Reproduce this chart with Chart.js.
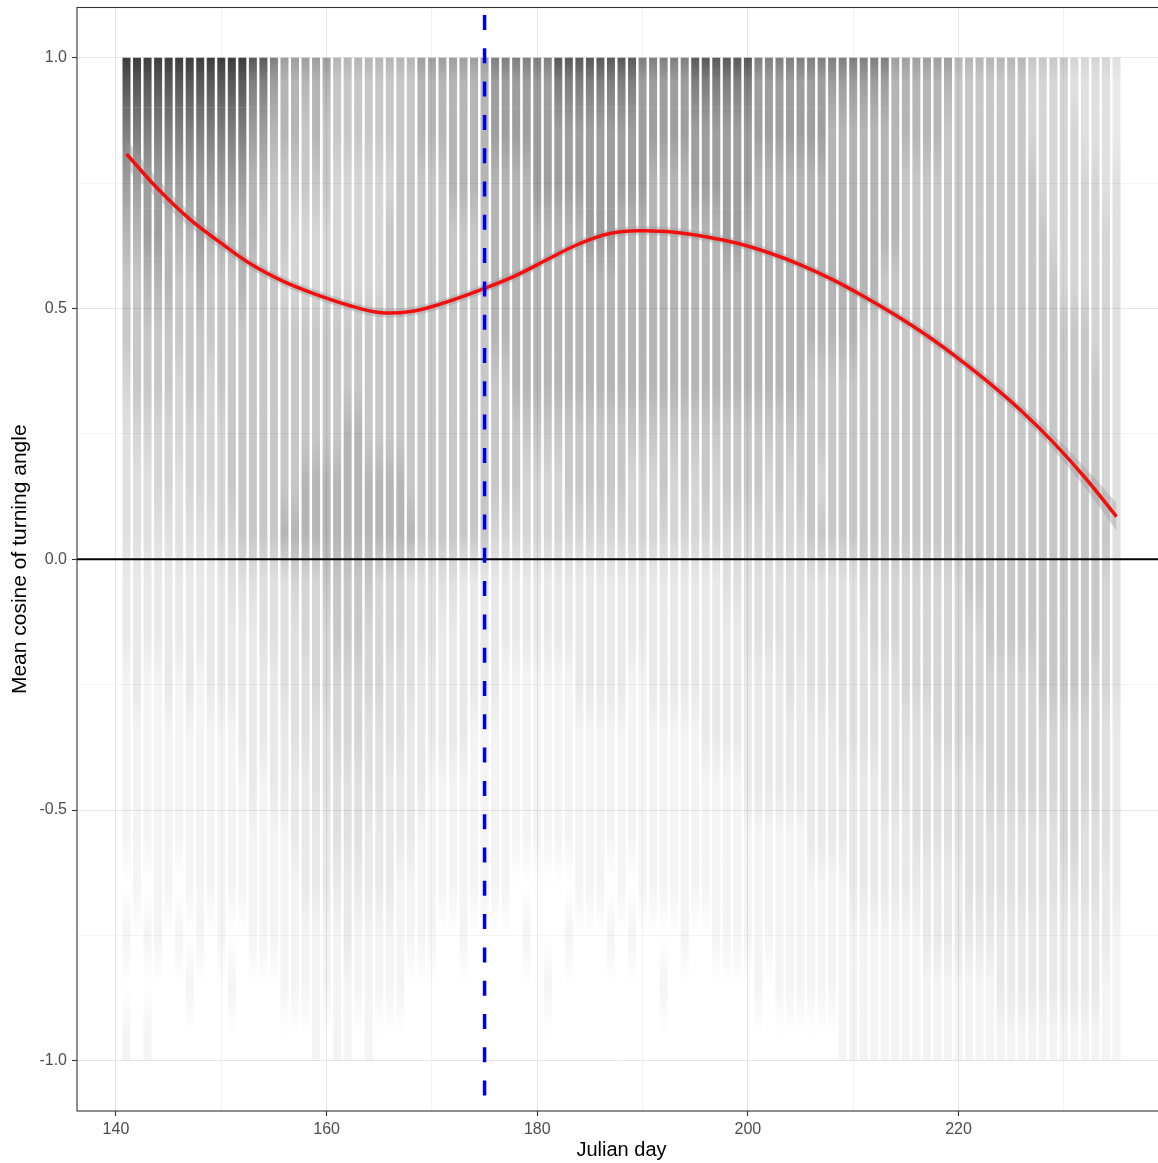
<!DOCTYPE html>
<html lang="en">
<head>
<meta charset="UTF-8">
<title>Mean cosine of turning angle by Julian day</title>
<script src="https://cdn.jsdelivr.net/npm/chart.js"></script>
<style>
  html, body { margin: 0; padding: 0; background: #fff; overflow: hidden; }
  #wrap { width: 1170px; height: 1163px; }
</style>
</head>
<body>
<div id="wrap"><canvas id="grafico" width="1170" height="1163"></canvas></div>

<script>
  // one column of points per Julian day
  const days = [
    141, 142, 143, 144, 145, 146, 147, 148, 149, 150,
    151, 152, 153, 154, 155, 156, 157, 158, 159, 160,
    161, 162, 163, 164, 165, 166, 167, 168, 169, 170,
    171, 172, 173, 174, 175, 176, 177, 178, 179, 180,
    181, 182, 183, 184, 185, 186, 187, 188, 189, 190,
    191, 192, 193, 194, 195, 196, 197, 198, 199, 200,
    201, 202, 203, 204, 205, 206, 207, 208, 209, 210,
    211, 212, 213, 214, 215, 216, 217, 218, 219, 220,
    221, 222, 223, 224, 225, 226, 227, 228, 229, 230,
    231, 232, 233, 234, 235
  ];

  // upper edge of each 0.1 wide band of the y axis, from 1.0 down to -0.9
  const binTops = [1.0, 0.9, 0.8, 0.7, 0.6, 0.5, 0.4, 0.3, 0.2, 0.1,
                   0.0, -0.1, -0.2, -0.3, -0.4, -0.5, -0.6, -0.7, -0.8, -0.9];
  const binSize = 0.1;

  // how crowded the points are in each band (0 = empty .. 9 = very dense), one string per day, top band first
  const density = [
    "98765543332211110101", "98765554332221111000", "98776554332211110101", "98776554432211111100", "98766554432221111000",
    "98765544332211110100", "98765554432221111010", "98776554432211111100", "98765544432221111000", "98765554442221111100",
    "98765555543221111010", "98766555553222111000", "87665555553222211100", "87655555553322111100", "76555555553322211100",
    "66554555563332211110", "66544555564333221110", "65544555664433222110", "66544555664443322111", "65544555665443322110",
    "55444555665544332111", "55444556665544332211", "55444556665544332110", "55444555665443322111", "55444555664443322110",
    "55455555664433222110", "55555555664433221110", "55555555563332221100", "66555555553322211100", "66555555553322111100",
    "66555555553222111000", "66655555553222111000", "66655555552222111100", "66655555552221111000", "66655555552221111000",
    "77666655542221111000", "77666655542211111000", "77666665542211110000", "77666665442211110100", "77766665442211110000",
    "77766665442211110010", "87766665442211110000", "87766665542211110100", "87766665542221111000", "87776665542221111000",
    "87776665542221111000", "87776665542221110100", "87766665542221111000", "87766665442211110100", "77766665442211111000",
    "77666665442221111000", "77666665542221111010", "77666665442221111000", "77666665542221111100", "87766665442221111000",
    "87766665542222111000", "87766665442222111100", "87776665543222111100", "87776665543222111100", "87766665543322211100",
    "77666665543322211110", "77666665443322211100", "77666665543322211110", "77666665443332211110", "77666665543322211110",
    "77666655553332221110", "77666655453332221110", "76666655553332221110", "76666655553333221111", "76666655553333222111",
    "76666555554333222111", "76666555554433222111", "76665555554433322111", "66665555554433322111", "66555555554443322111",
    "66555555554443332111", "66555555554443332211", "66555555554444332211", "65555555554444332211", "55555555554444332211",
    "55555555555444333211", "55555555555444333211", "55555555555544433211", "55555555555544433221", "55555555555544433221",
    "55555555555544433221", "44555555555544433221", "44455555555554433221", "44445555555554433221", "44444555555554443221",
    "34444555555554443221", "33444555555554433221", "33444455555544433221", "33344444454443332211", "22333333333332222111"
  ];

  // smoothed trend and half width of its grey confidence band
  const fitDays = [141, 144, 147, 150, 153, 156, 159, 162, 165, 168, 171, 175, 178, 181, 184, 187, 190,
                   193, 196, 199, 202, 205, 208, 211, 214, 217, 220, 223, 226, 229, 232, 235];
  const fitValues = [0.808, 0.738, 0.678, 0.630, 0.586, 0.553, 0.528, 0.507, 0.492, 0.494, 0.510, 0.540, 0.566, 0.598, 0.629, 0.650, 0.655,
                     0.652, 0.643, 0.630, 0.611, 0.587, 0.558, 0.524, 0.487, 0.446, 0.400, 0.350, 0.295, 0.233, 0.163, 0.085];
  const fitHalfBand = [0.028, 0.020, 0.015, 0.012, 0.010, 0.009, 0.009, 0.009, 0.009, 0.009, 0.009, 0.009, 0.009, 0.009, 0.009, 0.009, 0.009,
                       0.009, 0.009, 0.009, 0.009, 0.009, 0.009, 0.009, 0.009, 0.010, 0.010, 0.011, 0.012, 0.015, 0.020, 0.028];

  const xTicks = [140, 150, 160, 170, 180, 190, 200, 210, 220, 230];
  const xLabels = [140, 160, 180, 200, 220];
  const yTicks = [-1, -0.75, -0.5, -0.25, 0, 0.25, 0.5, 0.75, 1];
  const yLabels = [-1, -0.5, 0, 0.5, 1];

  const markerDay = 175;
  const zeroLine = 0;

  // opacity for each density level (10 is only used for the crowded edge at 1.0)
  const shades = [0, 0.045, 0.085, 0.12, 0.165, 0.22, 0.29, 0.38, 0.5, 0.65, 0.76];
  const fontFamily = "'Liberation Sans', Arial, sans-serif";

  function shadeOf(level) {
    const lo = Math.min(Math.floor(level), shades.length - 1), hi = Math.min(lo + 1, shades.length - 1);
    const a = shades[lo] + (shades[hi] - shades[lo]) * (level - lo);
    return 'rgba(0,0,0,' + a.toFixed(3) + ')';
  }

  // each cell fades into its neighbours above and below, so the columns read as soft streaks
  function cellFill(c, b) {
    if (!c.raw) return 'rgba(0,0,0,0)';
    const col = density[c.dataIndex];
    const mid = Number(col[b]);
    const y = c.chart.scales.y;
    const y0 = y ? y.getPixelForValue(binTops[b]) : NaN;
    const y1 = y ? y.getPixelForValue(binTops[b] - binSize) : NaN;
    if (!Number.isFinite(y0) || !Number.isFinite(y1) || y0 === y1) return shadeOf(mid);
    const up = b === 0 ? mid + 1 : (Number(col[b - 1]) + mid) / 2;
    const down = b === col.length - 1 ? mid : (Number(col[b + 1]) + mid) / 2;
    const g = c.chart.ctx.createLinearGradient(0, y0, 0, y1);
    g.addColorStop(0, shadeOf(up));
    g.addColorStop(0.5, shadeOf(mid));
    g.addColorStop(1, shadeOf(down));
    return g;
  }

  const cellSets = binTops.map((top, b) => ({
    type: 'bar',
    data: days.map(d => ({ x: d, y: [top - binSize, top] })),
    backgroundColor: c => cellFill(c, b),
    borderWidth: 0,
    inflateAmount: 0,
    barThickness: 8,
    grouped: false,
    order: 10
  }));

  const fitLine = fitDays.map((d, i) => ({ x: d, y: fitValues[i] }));
  const bandHigh = fitDays.map((d, i) => ({ x: d, y: fitValues[i] + fitHalfBand[i] }));
  const bandLow = fitDays.map((d, i) => ({ x: d, y: fitValues[i] - fitHalfBand[i] }));

  const lineStyle = { type: 'line', pointRadius: 0, tension: 0.4 };

  const refLines = {
    id: 'refLines',
    afterDatasetsDraw(chart) {
      const { ctx, chartArea: a, scales: { x, y } } = chart;
      ctx.save();
      // horizontal line at zero
      ctx.strokeStyle = '#000';
      ctx.lineWidth = 2.2;
      ctx.beginPath();
      ctx.moveTo(a.left, y.getPixelForValue(zeroLine));
      ctx.lineTo(a.right, y.getPixelForValue(zeroLine));
      ctx.stroke();
      // dashed marker day
      const px = x.getPixelForValue(markerDay);
      ctx.strokeStyle = '#0000e6';
      ctx.lineWidth = 3.5;
      ctx.setLineDash([15, 18.3]);
      ctx.lineDashOffset = 25.8;
      ctx.beginPath();
      ctx.moveTo(px, a.top);
      ctx.lineTo(px, a.bottom);
      ctx.stroke();
      // panel border
      ctx.setLineDash([]);
      ctx.strokeStyle = '#333';
      ctx.lineWidth = 1.1;
      ctx.strokeRect(a.left, a.top, a.right - a.left, a.bottom - a.top);
      ctx.restore();
    }
  };

  const gridColor = labels => c => (c.tick && labels.includes(c.tick.value)) ? '#e6e6e6' : '#f3f3f3';
  const tickColor = labels => c => (c.tick && labels.includes(c.tick.value)) ? '#333333' : 'rgba(0,0,0,0)';

  new Chart(document.getElementById('grafico'), {
    type: 'bar',
    data: {
      datasets: [
        ...cellSets,
        { ...lineStyle, data: bandHigh, borderWidth: 0, backgroundColor: 'rgba(153,153,153,0.4)', fill: '+1', order: 3 },
        { ...lineStyle, data: bandLow, borderWidth: 0, fill: false, order: 3 },
        { ...lineStyle, data: fitLine, borderColor: '#f01010', borderWidth: 3.5, fill: false, order: 2 }
      ]
    },
    options: {
      responsive: false,
      animation: false,
      events: [],
      layout: { padding: { left: 0, top: 7.5, right: 4, bottom: 0 } },
      plugins: { legend: { display: false }, tooltip: { enabled: false } },
      scales: {
        x: {
          type: 'linear',
          min: 136.3,
          max: 239.7,
          offset: false,
          afterBuildTicks: s => { s.ticks = xTicks.map(v => ({ value: v })); },
          afterFit: s => { s.height = 52; s.paddingLeft = 0; s.paddingRight = 0; },
          ticks: {
            autoSkip: false,
            maxRotation: 0,
            padding: 4,
            color: '#4d4d4d',
            font: { family: fontFamily, size: 16 },
            callback: v => xLabels.includes(v) ? String(v) : ''
          },
          grid: { offset: false, color: gridColor(xLabels), lineWidth: 1, tickLength: 5, tickColor: tickColor(xLabels), tickWidth: 1.1 },
          border: { display: false },
          title: { display: true, text: 'Julian day', color: '#000', font: { family: fontFamily, size: 20 }, padding: { top: 0, bottom: 1 } }
        },
        y: {
          type: 'linear',
          min: -1.1,
          max: 1.1,
          afterBuildTicks: s => { s.ticks = yTicks.map(v => ({ value: v })); },
          afterFit: s => { s.width = 77; s.paddingTop = 0; s.paddingBottom = 0; },
          ticks: {
            padding: 5,
            color: '#4d4d4d',
            font: { family: fontFamily, size: 16 },
            callback: v => yLabels.includes(v) ? v.toFixed(1) : ''
          },
          grid: { color: gridColor(yLabels), lineWidth: 1, tickLength: 5, tickColor: tickColor(yLabels), tickWidth: 1.1 },
          border: { display: false },
          title: { display: true, text: 'Mean cosine of turning angle', color: '#000', font: { family: fontFamily, size: 21 }, padding: { top: 8, bottom: 0 } }
        }
      }
    },
    plugins: [refLines]
  });
</script>
</body>
</html>
